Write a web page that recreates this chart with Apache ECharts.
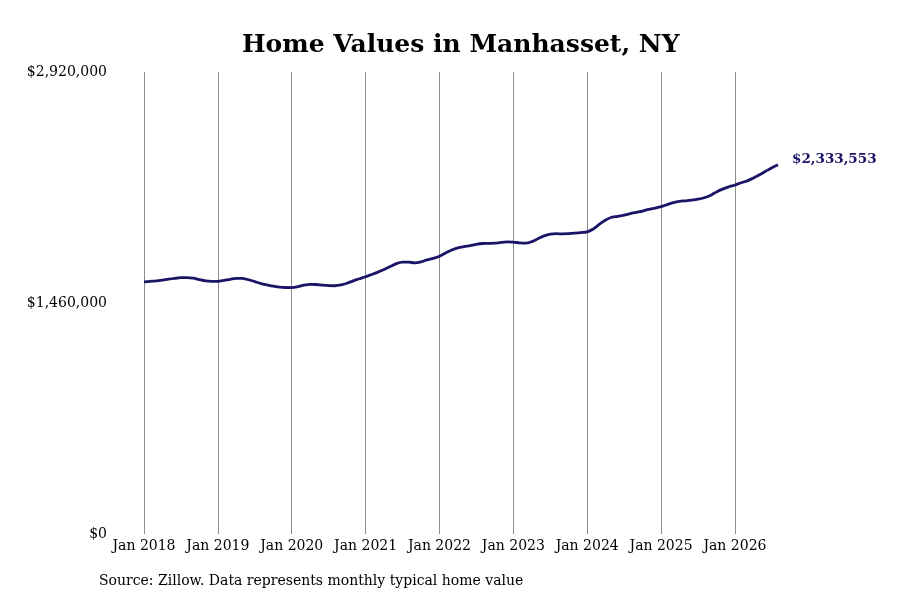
<!DOCTYPE html>
<html><head><meta charset="utf-8">
<script src="https://cdn.jsdelivr.net/npm/echarts@6/dist/echarts.min.js"></script>
<style>html,body{margin:0;padding:0;background:#fff}#c{width:900px;height:600px}</style>
</head><body><div id="c"></div>
<script>
const years = [2018,2019,2020,2021,2022,2023,2024,2025,2026];
const monthNames = ['Jan','Feb','Mar','Apr','May','Jun','Jul','Aug','Sep','Oct','Nov','Dec'];
const values2018 = [1594000,1597000,1600000,1605000,1611000,1616000,1620000,1621000,1617000,1608000,1600000,1597000];
const values2019 = [1597000,1603000,1610000,1616000,1615000,1607000,1595000,1583000,1574000,1566000,1561000,1558000];
const values2020 = [1557000,1563000,1573000,1578000,1577000,1573000,1570000,1569000,1574000,1585000,1600000,1613000];
const values2021 = [1626000,1640000,1655000,1672000,1690000,1709000,1718000,1718000,1714000,1720000,1733000,1742000];
const values2022 = [1755000,1776000,1795000,1808000,1816000,1823000,1831000,1836000,1837000,1838000,1843000,1846000];
const values2023 = [1845000,1840000,1838000,1848000,1866000,1884000,1895000,1898000,1897000,1898000,1901000,1905000];
const values2024 = [1910000,1928000,1958000,1985000,2002000,2008000,2015000,2025000,2033000,2041000,2052000,2060000];
const values2025 = [2069000,2082000,2095000,2103000,2106000,2110000,2116000,2125000,2140000,2162000,2180000,2194000];
const values2026 = [2206000,2220000,2232000,2250000,2270000,2293000,2315000,2333553];
const yTicks = [0,1460000,2920000];

const values = [].concat(values2018,values2019,values2020,values2021,values2022,values2023,values2024,values2025,values2026);
const categories = [];
for (const y of years) for (const m of monthNames) { if (categories.length < values.length) categories.push(m + ' ' + y); }

const font = 'DejaVu Serif';
const chart = echarts.init(document.getElementById('c'));
chart.setOption({
  backgroundColor: '#fff',
  animation: false,
  title: {
    text: 'Home Values in Manhasset, NY',
    left: 237, top: 28,
    textStyle: {fontFamily: font, fontWeight: 'bold', fontSize: 25, color: '#000'}
  },
  grid: {left: 144, right: 122, top: 72, bottom: 66},
  xAxis: {
    type: 'category', data: categories, boundaryGap: false,
    axisLine: {show: false}, axisTick: {show: false},
    axisLabel: {interval: 11, fontFamily: font, fontSize: 14, color: '#000', margin: 5},
    splitLine: {show: true, interval: 11, lineStyle: {color: '#8c8c8c', width: 1}}
  },
  yAxis: {
    type: 'value', min: yTicks[0], max: yTicks[2], interval: yTicks[1],
    axisLine: {show: false}, axisTick: {show: false}, splitLine: {show: false},
    axisLabel: {
      fontFamily: font, fontSize: 14, color: '#000', margin: 37,
      formatter: v => '$' + v.toLocaleString('en-US')
    }
  },
  series: [{
    type: 'line', data: values, smooth: 0.3, symbol: 'none',
    lineStyle: {color: '#1a1466', width: 2.8},
    endLabel: {
      show: true, distance: 14, offset: [0, -5],
      formatter: p => '$' + p.value.toLocaleString('en-US'),
      fontFamily: font, fontWeight: 'bold', fontSize: 13.5, color: '#1a1466'
    }
  }],
  graphic: [{
    type: 'text', left: 99, top: 574,
    style: {text: 'Source: Zillow. Data represents monthly typical home value', font: '14px "DejaVu Serif"', fill: '#000'}
  }]
});
</script></body></html>
